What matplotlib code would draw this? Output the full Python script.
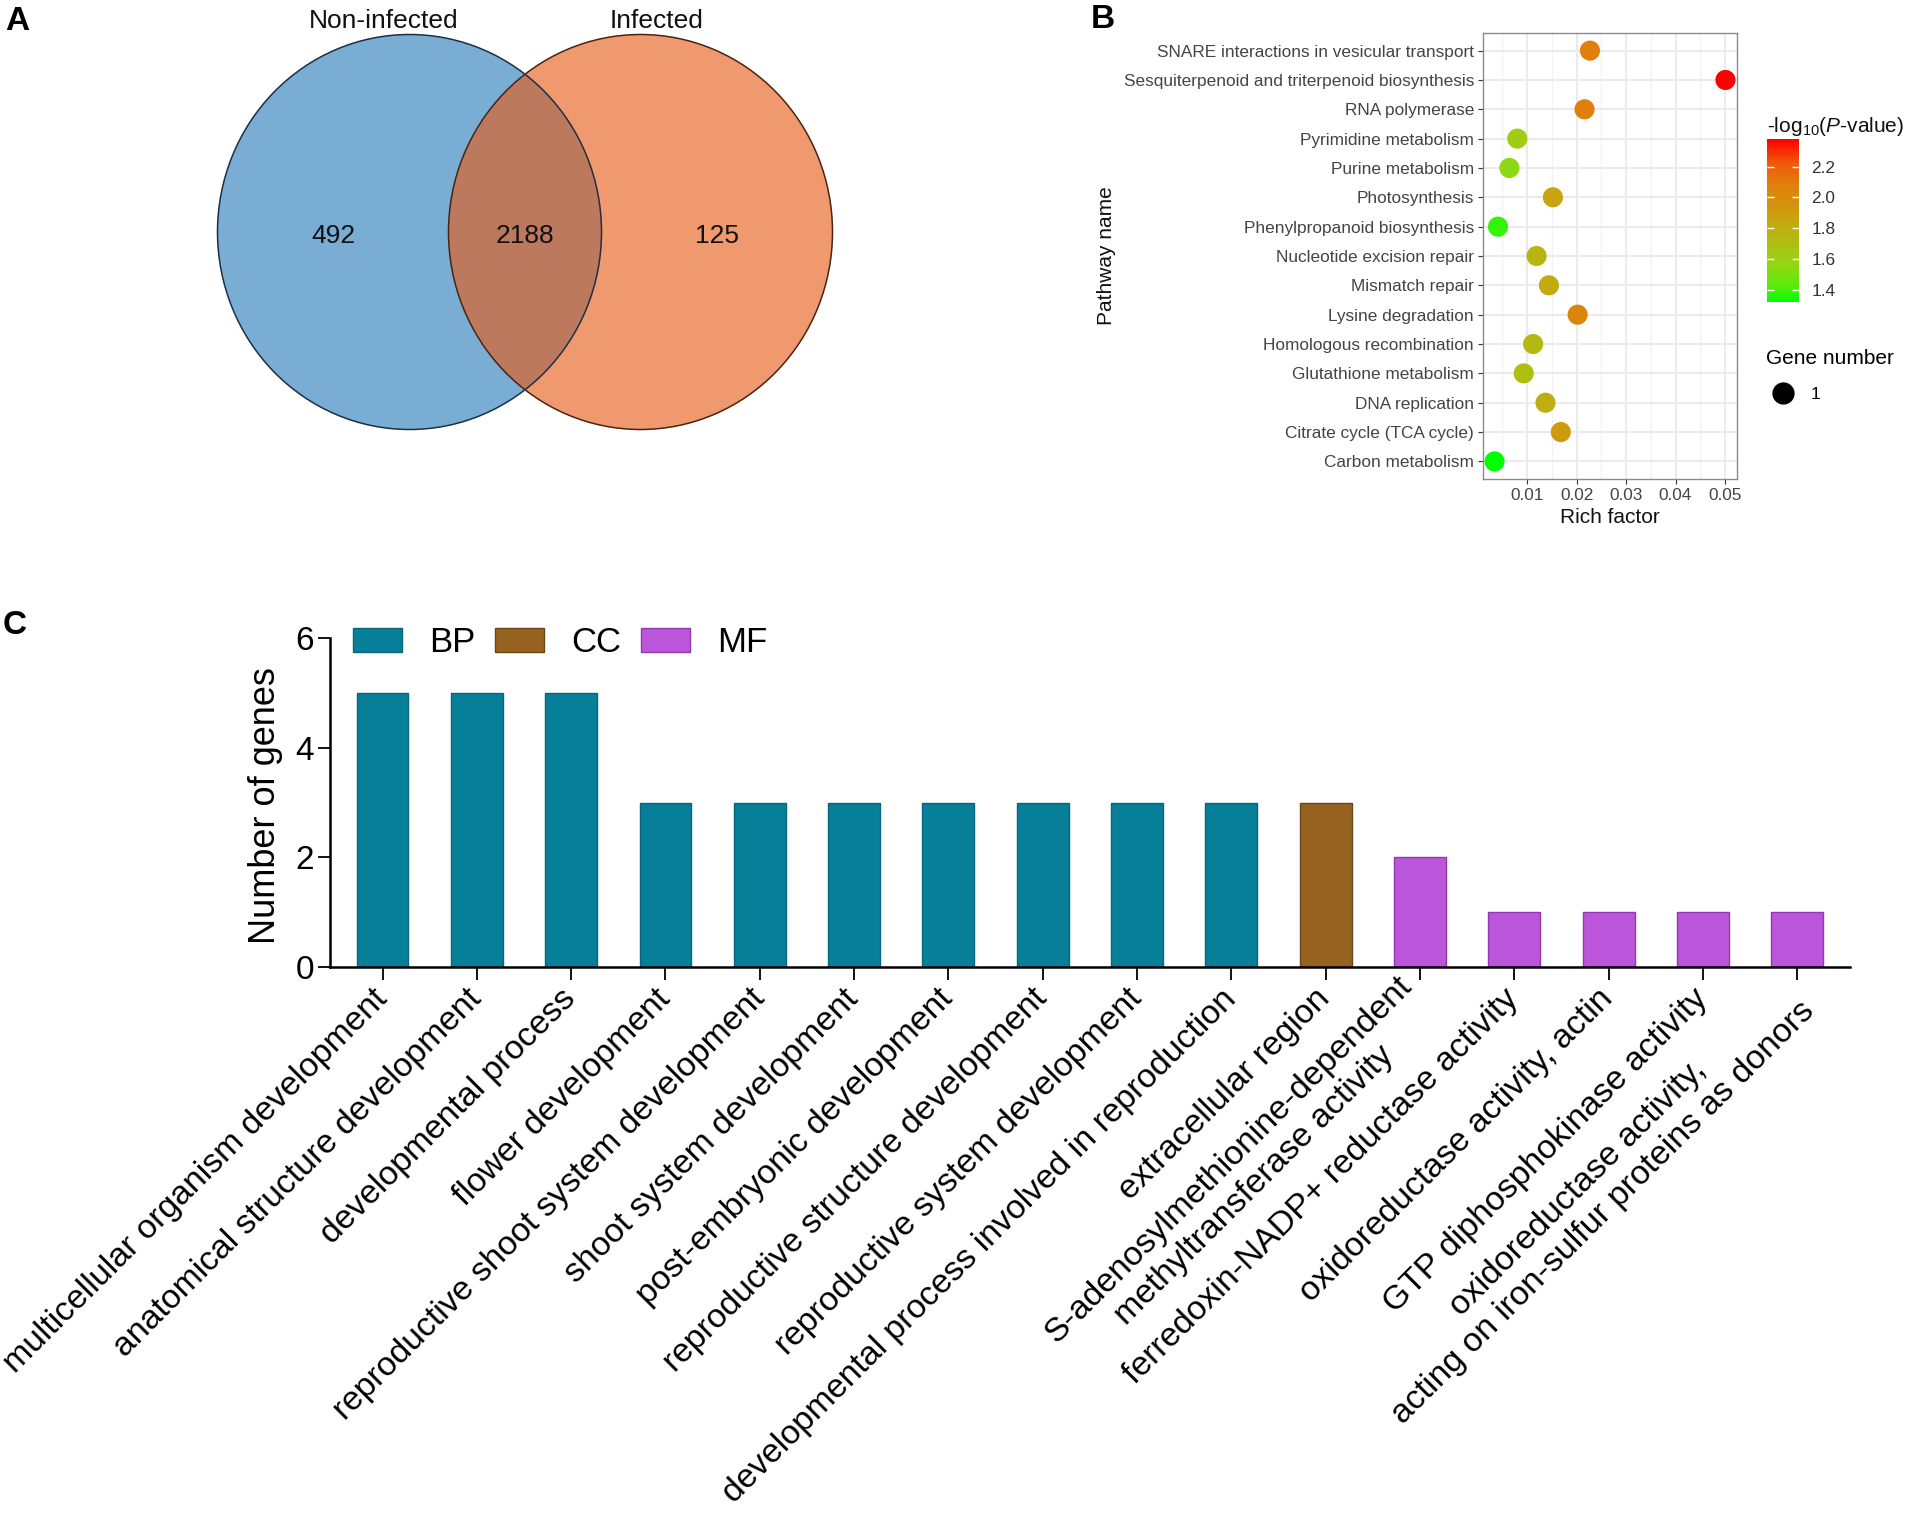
# three panel figure: venn of expressed genes, KEGG enrichment bubbles, GO bar chart
import numpy as np
import matplotlib
matplotlib.use("Agg")
import matplotlib.pyplot as plt
from matplotlib.patches import Ellipse
from matplotlib.lines import Line2D
from matplotlib.colors import LinearSegmentedColormap
from matplotlib.ticker import MultipleLocator, FormatStrFormatter

plt.rcParams['font.family'] = ['Liberation Sans', 'DejaVu Sans']
plt.rcParams['mathtext.fontset'] = 'custom'
plt.rcParams['mathtext.rm'] = 'Liberation Sans'
plt.rcParams['mathtext.it'] = 'Liberation Sans:italic'

# ---- data ----
# panel A: venn counts (only non-infected, shared, only infected)
venn_sets = ['Non-infected', 'Infected']
venn_counts = [492, 2188, 125]

# panel B: KEGG pathways, top to bottom
pathways = ['SNARE interactions in vesicular transport',
            'Sesquiterpenoid and triterpenoid biosynthesis',
            'RNA polymerase',
            'Pyrimidine metabolism',
            'Purine metabolism',
            'Photosynthesis',
            'Phenylpropanoid biosynthesis',
            'Nucleotide excision repair',
            'Mismatch repair',
            'Lysine degradation',
            'Homologous recombination',
            'Glutathione metabolism',
            'DNA replication',
            'Citrate cycle (TCA cycle)',
            'Carbon metabolism']
rich_factor = [0.0227, 0.0501, 0.0216, 0.0080, 0.0064, 0.0152, 0.0041, 0.0119,
               0.0144, 0.0202, 0.0112, 0.0093, 0.0137, 0.0168, 0.0034]
neg_log_p = [2.08, 2.38, 2.08, 1.62, 1.55, 1.85, 1.38, 1.76,
             1.82, 2.04, 1.73, 1.70, 1.80, 1.92, 1.32]
gene_number = [1] * 15

# panel C: GO terms
go_terms = ['multicellular organism development',
            'anatomical structure development',
            'developmental process',
            'flower development',
            'reproductive shoot system development',
            'shoot system development',
            'post-embryonic development',
            'reproductive structure development',
            'reproductive system development',
            'developmental process involved in reproduction',
            'extracellular region',
            'S-adenosylmethionine-dependent\nmethyltransferase activity',
            'ferredoxin-NADP+ reductase activity',
            'oxidoreductase activity, actin',
            'GTP diphosphokinase activity',
            'oxidoreductase activity,\nacting on iron-sulfur proteins as donors']
go_counts = [5, 5, 5, 3, 3, 3, 3, 3, 3, 3, 3, 2, 1, 1, 1, 1]
go_class = ['BP'] * 10 + ['CC'] + ['MF'] * 5

W, H = 1911, 1521
fig = plt.figure(figsize=(W / 100, H / 100), dpi=100)


def fbox(x0, y0, x1, y1):
    # pixel box (top-left origin) -> figure fraction rect
    return [x0 / W, 1 - y1 / H, (x1 - x0) / W, (y1 - y0) / H]


# ---- panel A: venn ----
ax_a = fig.add_axes(fbox(0, 0, 900, 500))
ax_a.set_xlim(0, 900)
ax_a.set_ylim(500, 0)
ax_a.axis('off')
cy, ew, eh = 232, 384, 395
cx = [409.5, 640.5]
ax_a.add_patch(Ellipse((cx[0], cy), ew, eh, facecolor='#7AADD3', edgecolor='none'))
ax_a.add_patch(Ellipse((cx[1], cy), ew, eh, facecolor='#E75A16', alpha=0.62, edgecolor='none'))
ax_a.add_patch(Ellipse((cx[0], cy), ew, eh, fill=False, edgecolor='#1d2f45', lw=1.1))
ax_a.add_patch(Ellipse((cx[1], cy), ew, eh, fill=False, edgecolor='#4a2410', lw=1.1))
l0, r0 = cx[0] - ew / 2, cx[0] + ew / 2
l1, r1 = cx[1] - ew / 2, cx[1] + ew / 2
for xpos, n in zip([(l0 + l1) / 2, (l1 + r0) / 2, (r0 + r1) / 2], venn_counts):
    ax_a.text(xpos, cy + 4, str(n), fontsize=19, ha='center', va='center', color='#111')
ax_a.text(384, 21, venn_sets[0], fontsize=19, ha='center', va='center', color='#111')
ax_a.text(657, 21, venn_sets[1], fontsize=19, ha='center', va='center', color='#111')

# ---- panel B: bubble plot ----
cmap = LinearSegmentedColormap.from_list(
    'grn_red', [(0, '#00FF00'), (0.1, '#5CEB0C'), (0.25, '#9AD214'), (0.5, '#C8A510'),
                (0.72, '#E07F0A'), (0.85, '#EE5A0A'), (1, '#FF0000')])
ax_b = fig.add_axes(fbox(1483, 33, 1737, 479))
ypos = np.arange(len(pathways))
vmin, vmax = min(neg_log_p), max(neg_log_p)
sc = ax_b.scatter(rich_factor, ypos, c=neg_log_p, cmap=cmap, vmin=vmin, vmax=vmax,
                  s=[210 * g for g in gene_number], linewidths=0, zorder=3)
ax_b.set_yticks(ypos)
ax_b.set_yticklabels(pathways)
ax_b.set_ylim(len(pathways) - 0.4, -0.6)
xr = max(rich_factor) - min(rich_factor)
ax_b.set_xlim(min(rich_factor) - 0.05 * xr, max(rich_factor) + 0.05 * xr)
ax_b.set_xticks([0.01, 0.02, 0.03, 0.04, 0.05])
ax_b.xaxis.set_major_formatter(FormatStrFormatter('%.2f'))
ax_b.xaxis.set_minor_locator(MultipleLocator(0.005))
ax_b.grid(True, which='major', color='#EBEBEB', lw=1.5)
ax_b.grid(True, which='minor', axis='x', color='#F2F2F2', lw=0.9)
ax_b.set_axisbelow(True)
ax_b.tick_params(which='minor', length=0)
ax_b.tick_params(which='major', length=3.5, width=0.8, color='#333333',
                 labelsize=12.4, labelcolor='#444444', pad=3)
for sp in ax_b.spines.values():
    sp.set_color('#8a8a8a')
    sp.set_linewidth(1)
ax_b.set_xlabel('Rich factor', fontsize=15, color='#111')
ax_b.xaxis.set_label_coords(0.5, -0.066)
ax_b.xaxis.label.set_va('top')
ax_b.set_ylabel('Pathway name', fontsize=15, color='#111')
ax_b.yaxis.set_label_coords(1116 / W, 1 - 256 / H, transform=fig.transFigure)

cax = fig.add_axes(fbox(1767, 139, 1799, 302))
cb = fig.colorbar(sc, cax=cax)
cb.set_ticks([1.4, 1.6, 1.8, 2.0, 2.2])
cb.ax.yaxis.set_major_formatter(FormatStrFormatter('%.1f'))
cb.ax.tick_params(direction='in', color='white', length=5, width=1, left=True, right=True,
                  labelsize=12.4, labelcolor='#333333', pad=9)
cb.outline.set_visible(False)
cb.ax.set_title('-log$_{10}$($P$-value)', loc='left', fontsize=15, pad=5, color='#111')

ax_b.legend(handles=[Line2D([0], [0], marker='o', ls='', color='black', markersize=15)],
            labels=[str(gene_number[0])], title='Gene number', loc='upper left',
            bbox_to_anchor=(1757 / W, 1 - 340 / H), bbox_transform=fig.transFigure,
            frameon=False, fontsize=12.4, title_fontsize=15, alignment='left',
            borderpad=0, handletextpad=0.6, labelspacing=1.15)

# ---- panel C: GO bar chart ----
class_colors = {'BP': '#077F99', 'CC': '#95621F', 'MF': '#BB55D9'}
class_edges = {'BP': '#05677c', 'CC': '#6b4615', 'MF': '#9437b0'}
ax_c = fig.add_axes(fbox(330, 638, 1850, 967))
x = np.arange(len(go_terms))
counts = np.array(go_counts)
cls = np.array(go_class)
for c in ['BP', 'CC', 'MF']:
    m = cls == c
    ax_c.bar(x[m], counts[m], width=0.55, color=class_colors[c],
             edgecolor=class_edges[c], lw=1, label=c)
ax_c.set_xlim(-0.557, 15.56)
ax_c.set_ylim(0, 6)
ax_c.set_yticks([0, 2, 4, 6])
ax_c.set_xticks(x)
ax_c.set_xticklabels(go_terms, rotation=45, ha='right', va='center',
                     rotation_mode='anchor')
for lbl in ax_c.get_xticklabels():
    lbl.set_multialignment('center')
ax_c.tick_params(axis='x', length=9.5, width=1.3, labelsize=24.3, pad=10)
ax_c.tick_params(axis='y', length=8.5, width=1.3, labelsize=24, pad=3)
ax_c.spines['top'].set_visible(False)
ax_c.spines['right'].set_visible(False)
ax_c.spines['left'].set_linewidth(1.8)
ax_c.spines['bottom'].set_linewidth(1.8)
ax_c.set_ylabel('Number of genes', fontsize=26)
ax_c.yaxis.set_label_coords(-0.031, 0.49)
ax_c.legend(loc='center left', bbox_to_anchor=(0.015, 0.985), ncol=3, frameon=False,
            fontsize=25, handlelength=1.41, handleheight=0.69, handletextpad=0.8,
            columnspacing=0.55, borderpad=0, borderaxespad=0)

# panel letters
fig.text(5 / W, 1 - 22 / H, 'A', fontsize=24, fontweight='bold', va='center', ha='left')
fig.text(1091 / W, 1 - 20 / H, 'B', fontsize=24, fontweight='bold', va='center', ha='left')
fig.text(3 / W, 1 - 625 / H, 'C', fontsize=24, fontweight='bold', va='center', ha='left')

fig.savefig('out.png', dpi=100)
